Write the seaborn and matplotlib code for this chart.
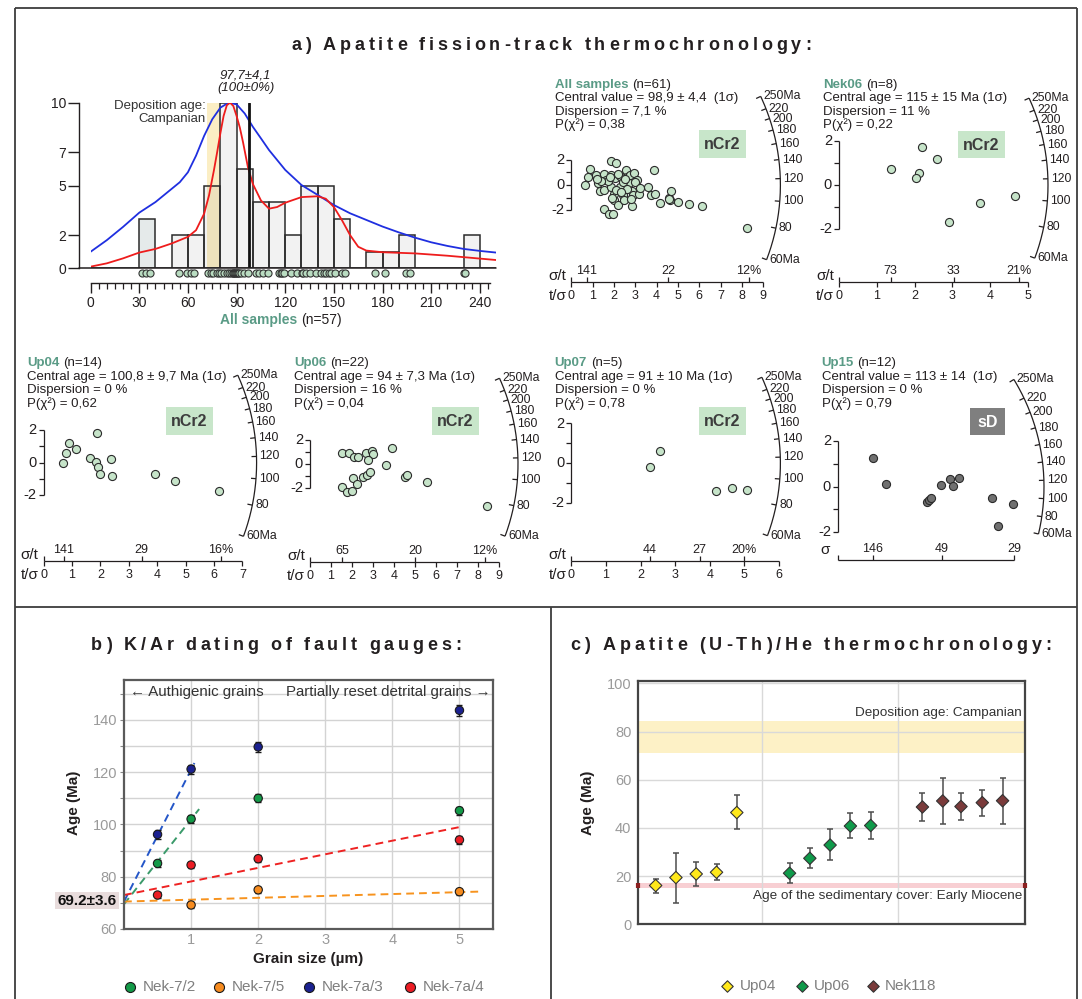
import numpy as np
import pandas as pd
import matplotlib
matplotlib.use('Agg')
import matplotlib.pyplot as plt
from matplotlib.patches import Rectangle
import seaborn as sns

# ============================ DATA ============================
# (a) AFT single-grain ages of all samples (histogram + rug)
hist_ages = [31.6, 34.0, 36.8, 54.4, 59.6, 61.7, 63.9,
             72.5, 74.0, 75.7, 77.8, 79.3,
             80.5, 82.2, 83.9, 85.2, 86.5, 87.5, 88.1, 88.6, 89.2, 89.7,
             90.3, 91.0, 91.6, 92.9, 94.6, 97.2,
             101.9, 103.7, 106.0, 109.2,
             116.0, 117.2, 118.3, 119.4,
             123.7, 127.3,
             130.5, 131.2, 132.9, 135.0, 138.9,
             141.9, 143.7, 145.4, 147.1, 148.4,
             150.5, 155.3, 156.6,
             175.3, 181.5, 194.6, 197.2, 230.3, 231.0]
hist_bin_edges = list(range(0, 260, 10))
hist_yticks = [0, 2, 5, 7, 10]
hist_xticks = list(range(0, 241, 30))
pdp_age = [0, 10, 20, 30, 40, 50, 55, 60, 65, 70, 75, 80, 85, 90, 95, 100, 105, 110, 115,
           120, 130, 140, 150, 160, 170, 180, 190, 200, 210, 220, 230, 240, 250]
pdp_val = [1.0, 1.7, 2.5, 3.36, 4.0, 4.8, 5.2, 5.8, 6.8, 8.0, 9.0, 9.7, 10.0, 9.9, 9.35, 8.55, 7.85,
           7.14, 6.54, 5.94, 5.03, 4.43, 3.82, 3.32, 2.92, 2.52, 2.17, 1.85, 1.57, 1.35, 1.17, 1.05, 0.95]
kde_age = [0, 10, 20, 30, 40, 50, 60, 65, 70, 73, 76, 78, 80, 82, 84, 86, 88, 90, 92, 94, 97,
           100, 105, 110, 115, 120, 130, 140, 145, 150, 155, 160, 165, 170, 180, 200, 220, 250]
kde_val = [0.1, 0.3, 0.6, 0.95, 1.17, 1.5, 1.9, 2.3, 3.3, 4.4, 5.9, 7.0, 8.15, 9.2, 9.85, 10.0, 9.8,
           9.2, 8.5, 7.6, 6.1, 5.1, 4.1, 3.6, 3.7, 3.96, 4.3, 4.35, 4.2, 3.7, 2.9, 2.0, 1.3, 1.07,
           0.97, 0.9, 0.76, 0.5]
pooled_age = 97.7
campanian_aft = (71.5, 80.0)

# (a) radial plots: x = t/sigma (precision), z = standardised estimate
r1_x = [0.65, 0.79, 0.87, 1.15, 1.23, 1.34, 1.52, 1.64, 1.55, 1.52, 1.75, 1.88, 1.85, 1.88, 1.96, 2.0,
        2.0, 2.09, 2.05, 2.21, 2.29, 2.29, 2.41, 2.49, 2.57, 2.62, 2.7, 2.75, 2.86, 2.91, 2.95, 2.86,
        3.08, 3.16, 3.6, 3.73, 3.88, 3.93, 4.17, 4.58, 4.63, 4.66, 5.02, 5.53, 6.15, 8.23,
        1.7, 2.4, 2.1, 2.6, 1.4, 2.2, 3.0, 1.9, 2.8, 1.2, 2.5, 1.8, 3.2, 4.6, 2.35]
r1_z = [0.0, 0.61, 1.25, 0.8, 0.19, -0.48, 0.85, 0.4, -0.4, -1.87, -2.32, 1.87, 0.75, -0.13, -2.27,
        -1.2, -0.67, 1.73, 0.53, -1.6, -0.13, 0.67, -0.8, -1.15, 1.2, 0.61, 0.13, 0.8, -0.45, -0.8,
        0.93, -1.68, 0.4, -0.67, -0.13, -0.8, 1.2, -0.67, -1.39, -0.99, -1.2, -0.45, -1.33, -1.52,
        -1.68, -3.41, 0.3, 0.2, -0.4, -0.3, 0.3, 0.9, 0.2, -1.0, -1.1, 0.5, 0.45, 0.6, -0.2, -1.1, -0.55]
r2_x = [1.37, 2.19, 2.58, 2.11, 2.05, 2.91, 3.74, 4.66]
r2_z = [0.74, 1.74, 1.2, 0.54, 0.31, -1.69, -0.8, -0.48]
r3_x = [0.68, 0.8, 0.88, 1.14, 1.63, 1.88, 1.85, 1.9, 2.0, 2.37, 2.4, 3.91, 4.61, 6.17]
r3_z = [0.0, 0.57, 1.22, 0.81, 0.3, 1.83, 0.04, -0.24, -0.69, 0.24, -0.79, -0.69, -1.12, -1.73]
r4_x = [1.53, 1.86, 2.08, 2.28, 2.69, 2.96, 3.02, 2.77, 3.9, 3.62, 1.53, 1.78, 1.99, 2.03, 2.24,
        2.54, 2.71, 2.87, 4.52, 4.62, 5.56, 8.42]
r4_z = [0.94, 0.88, 0.61, 0.61, 0.88, 1.08, 0.83, 0.33, 1.3, -0.08, -1.88, -2.29, -2.21, -1.19,
        -1.66, -1.05, -0.91, -0.69, -1.1, -0.91, -1.46, -3.45]
r5_x = [2.28, 2.57, 4.18, 4.63, 5.07]
r5_z = [-0.2, 0.6, -1.39, -1.26, -1.36]
r6_x = [0.68, 0.94, 1.75, 1.79, 1.82, 2.01, 2.19, 2.25, 2.38, 3.02, 3.14, 3.44]   # 100/sigma
r6_z = [1.25, 0.12, -0.69, -0.59, -0.48, 0.07, 0.33, 0.03, 0.4, -0.51, -1.72, -0.76]
rad_names = ['All samples', 'Nek06', 'Up04', 'Up06', 'Up07', 'Up15']
rad_n = [61, 8, 14, 22, 5, 12]
rad_info = [['Central value = 98,9 ± 4,4  (1σ)', 'Dispersion = 7,1 %', 'P(χ²) = 0,38'],
            ['Central age = 115 ± 15 Ma (1σ)', 'Dispersion = 11 %', 'P(χ²) = 0,22'],
            ['Central age = 100,8 ± 9,7 Ma (1σ)', 'Dispersion = 0 %', 'P(χ²) = 0,62'],
            ['Central age = 94 ± 7,3 Ma (1σ)', 'Dispersion = 16 %', 'P(χ²) = 0,04'],
            ['Central age = 91 ± 10 Ma (1σ)', 'Dispersion = 0 %', 'P(χ²) = 0,78'],
            ['Central value = 113 ± 14  (1σ)', 'Dispersion = 0 %', 'P(χ²) = 0,79']]
rad_unit = ['nCr2', 'nCr2', 'nCr2', 'nCr2', 'nCr2', 'sD']
rad_prec = [[141, 22, 12], [73, 33, 21], [141, 29, 16], [65, 20, 12], [44, 27, 20], [146, 49, 29]]
rad_tmax = [9, 5, 7, 9, 6, 0]
rad_kind = ['log', 'log', 'log', 'log', 'log', 'lin']
rad_ref = [114, 114, 114, 114, 114, 113]
arc_ages = [60, 80, 100, 120, 140, 160, 180, 200, 220, 250]

# (b) K/Ar fault gouge ages
kar_samples = ['Nek-7/2', 'Nek-7/5', 'Nek-7a/3', 'Nek-7a/4']
nek72_x, nek72_age, nek72_err = [0.5, 1, 2, 5], [85.1, 102.1, 110.0, 105.3], [1.4, 1.5, 1.5, 1.5]
nek75_x, nek75_age, nek75_err = [1, 2, 5], [69.2, 75.0, 74.3], [1.2, 1.2, 1.2]
nek7a3_x, nek7a3_age, nek7a3_err = [0.5, 1, 2, 5], [96.2, 121.2, 129.7, 143.7], [1.6, 1.7, 1.8, 2.0]
nek7a4_x, nek7a4_age, nek7a4_err = [0.5, 1, 2, 5], [73.0, 84.5, 86.9, 94.1], [1.3, 1.3, 1.4, 1.5]
trend_icpt = [69.5, 70.5, 70.5, 73.0]
trend_slope = [32.5, 0.72, 50.5, 5.2]
trend_xmax = [1.12, 5.3, 1.05, 5.05]
kar_intercept_label = '69.2±3.6'

# (c) AHe ages
he_groups = ['Up04', 'Up06', 'Nek118']
up04_x, up04_age = [0.85, 1.85, 2.85, 3.85, 4.85], [16.1, 19.4, 20.9, 21.6, 46.4]
up04_lo, up04_hi = [13.1, 9.0, 16.1, 18.3, 39.4], [19.0, 29.8, 25.7, 24.9, 53.7]
up06_x, up06_age = [7.45, 8.45, 9.45, 10.45, 11.45], [21.2, 27.4, 32.9, 40.8, 41.0]
up06_lo, up06_hi = [17.2, 23.3, 26.7, 35.7, 35.4], [25.3, 31.7, 39.4, 46.0, 46.6]
nek118_x, nek118_age = [14.0, 15.0, 15.9, 16.95, 17.95], [48.7, 51.2, 48.9, 50.5, 51.3]
nek118_lo, nek118_hi = [42.9, 41.7, 43.2, 45.1, 41.8], [54.5, 60.9, 54.7, 55.6, 60.9]
he_group_sep = [6.1, 12.8]
campanian_he = (71.0, 84.5)
miocene_he = (15.2, 17.0)

# ============================ STYLE ============================
sns.set_theme(style='white')
plt.rcParams['font.family'] = ['Liberation Sans', 'DejaVu Sans']
plt.rcParams['axes.unicode_minus'] = False

W, H = 1082, 999
fig = plt.figure(figsize=(W / 100, H / 100), dpi=100)
fig.patch.set_facecolor('white')
REN = fig.canvas.get_renderer()
INK = '#231f20'
TEAL = '#5a9b86'
PT = 100 / 72.0


def add_ax(x0, y0, x1, y1, **kw):
    return fig.add_axes([x0 / W, 1 - y1 / H, (x1 - x0) / W, (y1 - y0) / H], **kw)


ov = fig.add_axes([0, 0, 1, 1], zorder=20)
ov.set_xlim(0, W)
ov.set_ylim(H, 0)
ov.axis('off')


def tw(s, **kw):
    t = ov.text(0, 0, s, **kw)
    w = t.get_window_extent(renderer=REN).width
    t.remove()
    return w


def rich(x, y, parts, size, ha='left'):
    items = []
    for s, c, wt in parts:
        lead = 0.0
        if s.startswith(' '):
            lead = 0.278 * size * PT
            s = s[1:]
        items.append((s, c, wt, lead, tw(s, fontsize=size, fontweight=wt)))
    total = sum(i[3] + i[4] for i in items)
    x0 = x - total / 2 if ha == 'center' else x
    for s, c, wt, lead, w in items:
        x0 += lead
        ov.text(x0, y, s, fontsize=size, fontweight=wt, color=c, ha='left', va='center')
        x0 += w


def spaced(cx, cy, s, width, size=13):
    kw = dict(fontsize=size, fontweight='bold', color=INK)
    ws = [0.25 * size * PT if ch == ' ' else tw(ch, **kw) for ch in s]
    gap = (width - sum(ws)) / (len(s) - 1)
    x = cx - width / 2
    base = cy + 0.36 * size * PT
    for ch, w in zip(s, ws):
        if ch != ' ':
            ov.text(x, base, ch, ha='left', va='baseline', **kw)
        x += w + gap


# ============================ FRAME ============================
fl = dict(color='#3d3d3d', lw=1.3, solid_capstyle='butt')
ov.plot([15, 1077], [8, 8], **fl)
ov.plot([15, 15], [8, 999], **fl)
ov.plot([1077, 1077], [8, 999], **fl)
ov.plot([15, 1077], [607, 607], **fl)
ov.plot([551, 551], [607, 999], **fl)

spaced(551, 44, 'a) Apatite fission-track thermochronology:', 520)
spaced(276, 644, 'b) K/Ar dating of fault gauges:', 370)
spaced(811, 644, 'c) Apatite (U-Th)/He thermochronology:', 481)

# ============================ (a) HISTOGRAM ============================
hx0, hx1, hy0, hy1 = 90.6, 496.1, 102.7, 268.3
axh = add_ax(hx0, hy0, hx1, hy1)
axh.set_xlim(0, 250)
axh.set_ylim(0, 10)
axh.axis('off')
axh.axvspan(*campanian_aft, color='#fbeec4', lw=0, zorder=0)
sns.histplot(x=hist_ages, bins=hist_bin_edges, ax=axh, color='#eeeeee', edgecolor='#2b2b2b',
             linewidth=1.1, zorder=1)
for p in axh.containers[0]:
    p.set_alpha(None)
    p.set_edgecolor('#2b2b2b')
    if abs(p.get_x() - 30) < 0.1:
        p.set_facecolor((0.30, 0.42, 0.42, 0.14))
    else:
        p.set_facecolor((0.45, 0.45, 0.45, 0.09))
sns.lineplot(x=pdp_age, y=pdp_val, ax=axh, color='#1f2fe0', lw=1.3, zorder=3)
sns.lineplot(x=kde_age, y=kde_val, ax=axh, color='#ee1c1c', lw=1.3, zorder=3)
axh.axvline(pooled_age, 0, 1, color='#111111', lw=2.0, zorder=4)
hpx_y = (hy1 - hy0) / 10.0
sns.scatterplot(x=hist_ages, y=np.full(len(hist_ages), -5.0 / hpx_y), ax=axh, s=26,
                color='#b9dcc1', edgecolor='#333333', linewidth=0.8, legend=False,
                zorder=5, clip_on=False)
ov.plot([79.4, 495.5], [hy1, hy1], color=INK, lw=1.1, zorder=1)

ay = add_ax(79.4, hy0, 80.4, hy1)
ay.set_ylim(0, 10)
ay.patch.set_alpha(0)
for sp in ['top', 'right', 'bottom']:
    ay.spines[sp].set_visible(False)
ay.spines['left'].set_color(INK)
ay.spines['left'].set_linewidth(1.0)
ay.set_xticks([])
ay.set_yticks(hist_yticks)
ay.tick_params(axis='y', left=True, length=8, width=1, color=INK, labelsize=10,
               labelcolor=INK, pad=1.5, direction='out')

axx = add_ax(hx0, 282.3, hx1, 283.3)
axx.set_xlim(0, 250)
axx.patch.set_alpha(0)
for sp in ['top', 'right', 'left']:
    axx.spines[sp].set_visible(False)
axx.spines['bottom'].set_color(INK)
axx.spines['bottom'].set_linewidth(1.0)
axx.spines['bottom'].set_bounds(0, 246)
axx.set_yticks([])
axx.set_xticks(hist_xticks)
axx.set_xticks(list(range(0, 246, 5)), minor=True)
axx.tick_params(axis='x', which='major', bottom=True, length=7, width=1, color=INK,
                labelsize=10, labelcolor=INK, pad=2)
axx.tick_params(axis='x', which='minor', bottom=True, length=4.3, width=0.9, color=INK)

rich(281, 320, [('All samples', TEAL, 'bold'), (' (n=57)', INK, 'normal')], 10, ha='center')
ov.text(245.6, 76, '97,7±4,1', ha='center', va='center', fontsize=9.5, style='italic', color=INK)
ov.text(245.6, 88, '(100±0%)', ha='center', va='center', fontsize=9.5, style='italic', color=INK)
ov.text(205.6, 106, 'Deposition age:', ha='right', va='center', fontsize=9.5, color='#333333')
ov.text(205.6, 118.7, 'Campanian', ha='right', va='center', fontsize=9.5, color='#333333')

# ============================ (a) RADIAL PLOTS ============================
rad_layout = [
    dict(ox=571.4, oy=185.0, pxx=21.3, pxy=12.7, axis_y=281.7, R=209, tx=554.6, ty=85,
         box=(699, 130, 746, 157.7)),
    dict(ox=839.0, oy=185.0, pxx=37.8, pxy=22.0, axis_y=281.7, R=209, tx=823.0, ty=85,
         box=(958, 131, 1005, 158.3)),
    dict(ox=43.6, oy=462.7, pxx=28.4, pxy=16.3, axis_y=560.7, R=213, tx=27.2, ty=363.3,
         box=(166, 406.7, 213, 435)),
    dict(ox=310.0, oy=464.0, pxx=21.0, pxy=12.1, axis_y=561.7, R=208, tx=294.4, ty=363.3,
         box=(432, 406.7, 479, 435)),
    dict(ox=571.4, oy=463.3, pxx=34.6, pxy=19.9, axis_y=560.7, R=209, tx=554.6, ty=363.3,
         box=(699, 406.7, 746, 435)),
    dict(ox=838.0, oy=486.7, pxx=51.0, pxy=22.7, axis_y=560.0, R=206, tx=821.5, ty=363.3,
         box=(970, 408.3, 1004.5, 435)),
]
rad_x = [r1_x, r2_x, r3_x, r4_x, r5_x, r6_x]
rad_z = [r1_z, r2_z, r3_z, r4_z, r5_z, r6_z]


def radial(L, xs, zs, name, n, info, unit, prec, tmax, kind, tref):
    ox, oy, pxx, pxy, axis_y, R = L['ox'], L['oy'], L['pxx'], L['pxy'], L['axis_y'], L['R']
    bx0, bx1, by0, by1 = ox - 50, ox + 260, oy - 150, axis_y + 30
    ax = add_ax(bx0, by0, bx1, by1)
    ax.set_xlim((bx0 - ox) / pxx, (bx1 - ox) / pxx)
    ax.set_ylim((oy - by1) / pxy, (oy - by0) / pxy)
    ax.axis('off')
    kx, ky = 1.0 / pxx, 1.0 / pxy
    lk = dict(color=INK, lw=0.9, solid_capstyle='butt', clip_on=False)
    sd = kind == 'lin'
    fill = '#707070' if sd else '#c6e4c9'
    # 2-sigma bar
    ax.plot([0, 0], [-2, 2], **lk)
    for z in [-2, -1, 0, 1, 2]:
        ax.plot([-5 * kx, 0], [z, z], **lk)
    for z in [-2, 0, 2]:
        ax.text(-7 * kx, z, str(z), ha='right', va='center', fontsize=10.5, color=INK)
    # precision axis
    ya = (oy - axis_y) / pxy
    xend = tmax if not sd else 100.0 / prec[-1]
    ax.plot([0, xend], [ya, ya], **lk)
    ax.plot([0, 0], [ya, ya + 5 * ky], **lk)
    if not sd:
        for v in range(int(tmax) + 1):
            ax.plot([v, v], [ya, ya - 5 * ky], **lk)
            ax.text(v, ya - 14 * ky, str(v), ha='center', va='center', fontsize=9, color=INK)
        ax.text(-5 * kx, ya - 14 * ky, 't/σ', ha='right', va='center', fontsize=11, color=INK)
        ax.text(-5 * kx, ya + 6 * ky, 'σ/t', ha='right', va='center', fontsize=11, color=INK)
    else:
        ax.text(-8 * kx, ya + 10 * ky, 'σ', ha='right', va='center', fontsize=11, color=INK)
    for i, s in enumerate(prec):
        xp = 100.0 / s
        ax.plot([xp, xp], [ya, ya + 5 * ky], **lk)
        lab = f'{s}%' if (i == len(prec) - 1 and not sd) else f'{s}'
        ax.text(xp, ya + 11 * ky, lab, ha='center', va='center', fontsize=9, color=INK)

    # age arc
    def slope(tt):
        tt = np.asarray(tt, dtype=float)
        return np.log(tt / tref) if kind == 'log' else (tt - tref) / 100.0

    tt = np.linspace(arc_ages[0], arc_ages[-1], 300)
    th = np.arctan(slope(tt) * pxy / pxx)
    ax.plot(R * np.cos(th) * kx, R * np.sin(th) * ky, **lk)
    for a, t_ in zip(arc_ages, np.arctan(slope(arc_ages) * pxy / pxx)):
        c, s_ = np.cos(t_), np.sin(t_)
        ax.plot([(R - 5) * c * kx, R * c * kx], [(R - 5) * s_ * ky, R * s_ * ky], **lk)
        lab = f'{a}Ma' if a in (arc_ages[0], arc_ages[-1]) else f'{a}'
        ax.text((R + 3) * c * kx, R * s_ * ky, lab, ha='left', va='center', fontsize=8.8, color=INK)
    # single grains
    sns.scatterplot(x=xs, y=zs, ax=ax, s=34, color=fill, edgecolor='#2b2b2b', linewidth=0.8,
                    legend=False, zorder=5, clip_on=False)
    # text block
    tx, ty = L['tx'], L['ty']
    rich(tx, ty, [(name, TEAL, 'bold'), (f' (n={n})', INK, 'normal')], 9.5)
    for i, line in enumerate(info):
        ov.text(tx, ty + 13.3 * (i + 1), line, fontsize=9.5, color=INK, ha='left', va='center')
    b = L['box']
    ov.add_patch(Rectangle((b[0], b[1]), b[2] - b[0], b[3] - b[1],
                           fc='#7f7f7f' if sd else '#c8e6ca', ec='none'))
    ov.text((b[0] + b[2]) / 2, (b[1] + b[3]) / 2 + 0.5, unit, ha='center', va='center',
            fontsize=11.5, fontweight='bold', color='white' if sd else '#3c3c3c')


for i in range(6):
    radial(rad_layout[i], rad_x[i], rad_z[i], rad_names[i], rad_n[i], rad_info[i],
           rad_unit[i], rad_prec[i], rad_tmax[i], rad_kind[i], rad_ref[i])

# ============================ (b) K/Ar ============================
kar = pd.concat([pd.DataFrame({'sample': s, 'grain': x, 'age': a, 'err': e})
                 for s, x, a, e in zip(kar_samples,
                                       [nek72_x, nek75_x, nek7a3_x, nek7a4_x],
                                       [nek72_age, nek75_age, nek7a3_age, nek7a4_age],
                                       [nek72_err, nek75_err, nek7a3_err, nek7a4_err])],
                ignore_index=True)
kar_pt_col = ['#139a48', '#f68b1f', '#1b2190', '#ec1c24']
kar_ln_col = ['#3a9a6a', '#f7931e', '#2456c8', '#ee2222']
axk = add_ax(124, 680, 493, 929)
axk.set_xlim(0, 5.5)
axk.set_ylim(60, 155.3)
axk.set_axisbelow(True)
axk.set_yticks([60, 80, 100, 120, 140])
axk.set_yticks([70, 90, 110, 130, 150], minor=True)
axk.set_xticks([1, 2, 3, 4, 5])
axk.grid(axis='y', which='both', color='#d3d3d3', lw=1)
axk.grid(axis='x', which='major', color='#d3d3d3', lw=1)
for sp in axk.spines.values():
    sp.set_color('#5a5a5a')
    sp.set_linewidth(1.6)
axk.tick_params(axis='y', which='both', left=True, length=3, width=0.8, color='#888888',
                labelsize=10.5, labelcolor='#9a9a9a', pad=2)
axk.tick_params(axis='x', bottom=False, length=0, labelsize=10.5, labelcolor='#9a9a9a', pad=3)
for i0, c in enumerate(kar_ln_col):
    xx = np.array([0.0, trend_xmax[i0]])
    axk.plot(xx, trend_icpt[i0] + trend_slope[i0] * xx, ls=(0, (4, 2.6)), lw=1.4, color=c,
             zorder=2)
axk.errorbar(kar['grain'], kar['age'], yerr=kar['err'], fmt='none', ecolor='#1a1a1a',
             elinewidth=1.0, capsize=2.5, capthick=1.0, zorder=3)
sns.scatterplot(data=kar, x='grain', y='age', hue='sample',
                palette=dict(zip(kar_samples, kar_pt_col)), s=36, edgecolor='#1a1a1a',
                linewidth=0.8, legend=False, ax=axk, zorder=4)
axk.set_xlabel('')
axk.set_ylabel('')
ov.text(130, 691.7, '← Authigenic grains', ha='left', va='center', fontsize=10.8, color='#333333')
ov.text(490, 691.7, 'Partially reset detrital grains →', ha='right', va='center', fontsize=10.8,
        color='#333333')
ov.add_patch(Rectangle((55, 891.7), 64, 17.6, fc='#e8dcdc', ec='none'))
ov.text(87, 901, kar_intercept_label, ha='center', va='center', fontsize=11, fontweight='bold',
        color='#111111')
ov.text(74, 803, 'Age (Ma)', rotation=90, ha='center', va='center', fontsize=11,
        fontweight='bold', color=INK)
ov.text(308.5, 959, 'Grain size (µm)', ha='center', va='center', fontsize=11,
        fontweight='bold', color=INK)
for mx, tx, s, c in zip([130, 219, 309, 410], [142.6, 231.7, 321.5, 422.5], kar_samples,
                        kar_pt_col):
    ov.scatter([mx], [986.7], s=52, color=c, edgecolor='#1a1a1a', linewidth=0.8)
    ov.text(tx, 986.7, s, ha='left', va='center', fontsize=11, color='#7f7f7f')

# ============================ (c) AHe ============================
he = pd.concat([pd.DataFrame({'group': g, 'x': x, 'age': a, 'lo': lo, 'hi': hi})
                for g, x, a, lo, hi in zip(he_groups,
                                           [up04_x, up06_x, nek118_x],
                                           [up04_age, up06_age, nek118_age],
                                           [up04_lo, up06_lo, nek118_lo],
                                           [up04_hi, up06_hi, nek118_hi])],
               ignore_index=True)
he_col = ['#ffe81a', '#0f9a4a', '#7a3b3b']
axc = add_ax(638.4, 681, 1025.3, 924.3)
axc.set_xlim(0, 19.07)
axc.set_ylim(0, 101)
axc.set_axisbelow(True)
axc.set_yticks(list(range(0, 101, 20)))
axc.set_xticks(he_group_sep)
axc.set_xticklabels([])
axc.grid(axis='both', color='#d9d9d9', lw=1)
for sp in axc.spines.values():
    sp.set_color('#444444')
    sp.set_linewidth(1.6)
axc.tick_params(axis='y', left=False, length=0, labelsize=10.5, labelcolor='#9a9a9a', pad=5)
axc.tick_params(axis='x', bottom=False, length=0)
axc.axhspan(*campanian_he, color='#fdf1c6', lw=0, zorder=0.2)
axc.axhspan(*miocene_he, color='#f8cfd3', lw=0, zorder=0.2)
for xe in [0, 19.07]:
    axc.plot([xe, xe], list(miocene_he), color='#8c2020', lw=3, clip_on=False, zorder=3,
             solid_capstyle='butt')
axc.errorbar(he['x'], he['age'], yerr=[he['age'] - he['lo'], he['hi'] - he['age']], fmt='none',
             ecolor='#4d4d4d', elinewidth=1.1, capsize=2.5, capthick=1.1, zorder=3)
sns.scatterplot(data=he, x='x', y='age', hue='group', palette=dict(zip(he_groups, he_col)),
                marker='D', s=40, edgecolor='#333333', linewidth=0.8, legend=False, ax=axc,
                zorder=4)
axc.set_xlabel('')
axc.set_ylabel('')
ov.text(1022, 713.3, 'Deposition age: Campanian', ha='right', va='center', fontsize=9.7,
        color='#333333')
ov.text(1022, 896, 'Age of the sedimentary cover: Early Miocene', ha='right', va='center',
        fontsize=9.7, color='#333333')
ov.text(588.4, 802.7, 'Age (Ma)', rotation=90, ha='center', va='center', fontsize=11,
        fontweight='bold', color=INK)
for mx, tx, g, c in zip([727, 802, 873], [739.4, 813.7, 885], he_groups, he_col):
    ov.scatter([mx], [985.7], s=34, marker='D', color=c, edgecolor='#333333', linewidth=0.8)
    ov.text(tx, 985.7, g, ha='left', va='center', fontsize=11, color='#7f7f7f')

fig.savefig('out.png', dpi=100)
